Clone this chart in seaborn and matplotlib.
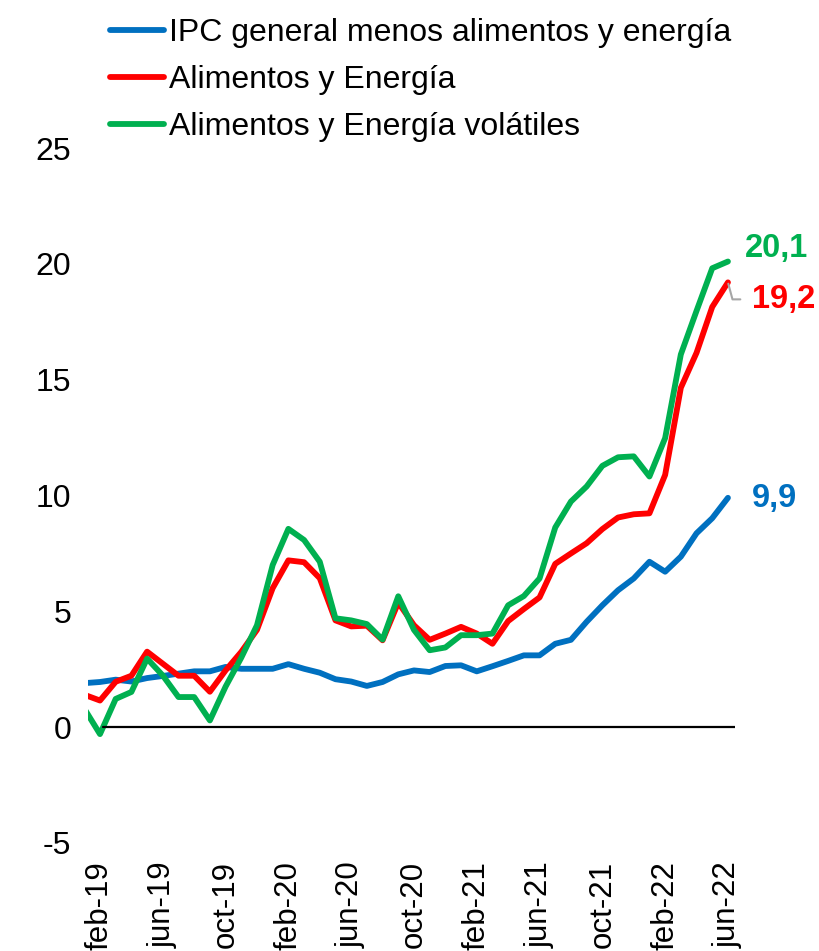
import numpy as np
import pandas as pd
import seaborn as sns
import matplotlib
matplotlib.use("Agg")
import matplotlib.pyplot as plt

# meses ene-19 .. jun-22
meses = pd.date_range("2019-01-01", "2022-06-01", freq="MS")
nombres = ["ene", "feb", "mar", "abr", "may", "jun", "jul", "ago", "sep", "oct", "nov", "dic"]
etiquetas = [f"{nombres[m.month - 1]}-{str(m.year)[2:]}" for m in meses]

ipc_sae = [1.9, 1.95, 2.05, 1.97, 2.12, 2.21, 2.31, 2.41, 2.41, 2.6,
           2.52, 2.52, 2.52, 2.72, 2.52, 2.35, 2.07, 1.97, 1.78, 1.95,
           2.28, 2.45, 2.38, 2.64, 2.67, 2.41, 2.63, 2.86, 3.1, 3.1,
           3.6, 3.77, 4.55, 5.26, 5.91, 6.42, 7.14, 6.71, 7.36, 8.37,
           9.02, 9.9]
alim_energia = [1.4, 1.15, 1.96, 2.22, 3.26, 2.74, 2.22, 2.22, 1.53, 2.45,
                3.25, 4.2, 6.0, 7.2, 7.12, 6.43, 4.61, 4.35, 4.38, 3.75,
                5.38, 4.4, 3.77, 4.04, 4.33, 4.04, 3.6, 4.58, 5.1, 5.6,
                7.05, 7.5, 7.94, 8.55, 9.05, 9.19, 9.23, 10.89, 14.65, 16.16,
                18.14, 19.2]
alim_energia_vol = [0.8, -0.3, 1.22, 1.52, 2.96, 2.23, 1.3, 1.3, 0.29, 1.75,
                    3.0, 4.4, 7.0, 8.56, 8.08, 7.14, 4.7, 4.61, 4.45, 3.78,
                    5.65, 4.2, 3.32, 3.44, 3.97, 3.97, 4.04, 5.26, 5.66, 6.42,
                    8.62, 9.74, 10.39, 11.28, 11.65, 11.69, 10.82, 12.48, 16.09, 17.97,
                    19.81, 20.1]

series = ["IPC general menos alimentos y energía", "Alimentos y Energía",
          "Alimentos y Energía volátiles"]
colores = ["#0070C0", "#FF0000", "#00B050"]
ultimos = ["9,9", "19,2", "20,1"]

idx = np.arange(len(meses))
df = pd.DataFrame({"idx": idx, series[0]: ipc_sae, series[1]: alim_energia,
                   series[2]: alim_energia_vol})
largo = df.melt(id_vars="idx", var_name="serie", value_name="valor")

sns.set_style("white")
plt.rcParams["font.family"] = ["Liberation Sans", "DejaVu Sans"]
plt.rcParams["text.color"] = "black"
plt.rcParams["xtick.color"] = "black"
plt.rcParams["ytick.color"] = "black"

fig = plt.figure(figsize=(8.19, 9.51), dpi=100)
ax = fig.add_axes([88 / 819, 108 / 951, 647 / 819, 695 / 951])

sns.lineplot(data=largo, x="idx", y="valor", hue="serie", hue_order=series,
             palette=colores, lw=4.2, ax=ax, legend=False)

ax.set_xlim(0.236, 41.45)
ax.set_ylim(-5, 25)
ax.axhline(0, xmin=(103 - 88) / 647, xmax=1, color="black", lw=1.6)

ax.set_yticks(range(-5, 26, 5))
ax.set_yticklabels([str(v) for v in range(-5, 26, 5)], fontsize=23)
ticks = idx[1::4]
ax.set_xticks(ticks)
ax.set_xticklabels([etiquetas[i] for i in ticks], rotation=90, fontsize=22.5)
ax.tick_params(axis="both", length=0)
ax.tick_params(axis="y", pad=12)
ax.tick_params(axis="x", pad=13)
ax.set_xlabel("")
ax.set_ylabel("")
for s in ax.spines.values():
    s.set_visible(False)

# etiquetas del último dato
ult = len(meses) - 1
ax.annotate(ultimos[2], (ult, alim_energia_vol[-1]), xytext=(17, 13),
            textcoords="offset pixels", color=colores[2], fontsize=23.5,
            fontweight="bold", va="center", ha="left")
ax.annotate(ultimos[1], (ult, alim_energia[-1]), xytext=(24, -17),
            textcoords="offset pixels", color=colores[1], fontsize=23.5,
            fontweight="bold", va="center", ha="left",
            arrowprops=dict(arrowstyle="-", color="#A6A6A6", lw=1.5,
                            relpos=(0, 0.5), shrinkA=6, shrinkB=1,
                            connectionstyle="angle,angleA=0,angleB=105,rad=0"))
ax.annotate(ultimos[0], (ult, ipc_sae[-1]), xytext=(24, -1),
            textcoords="offset pixels", color=colores[0], fontsize=23.5,
            fontweight="bold", va="center", ha="left")

handles = [plt.Line2D([], [], color=c, lw=4.2) for c in colores]
fig.legend(handles, series, loc="upper left", bbox_to_anchor=(110 / 819, 1 - 18 / 951),
           frameon=False, fontsize=23, handlelength=1.7, handletextpad=0.15,
           labelspacing=0.53, borderpad=0, borderaxespad=0)

fig.savefig("out.png", dpi=100)
